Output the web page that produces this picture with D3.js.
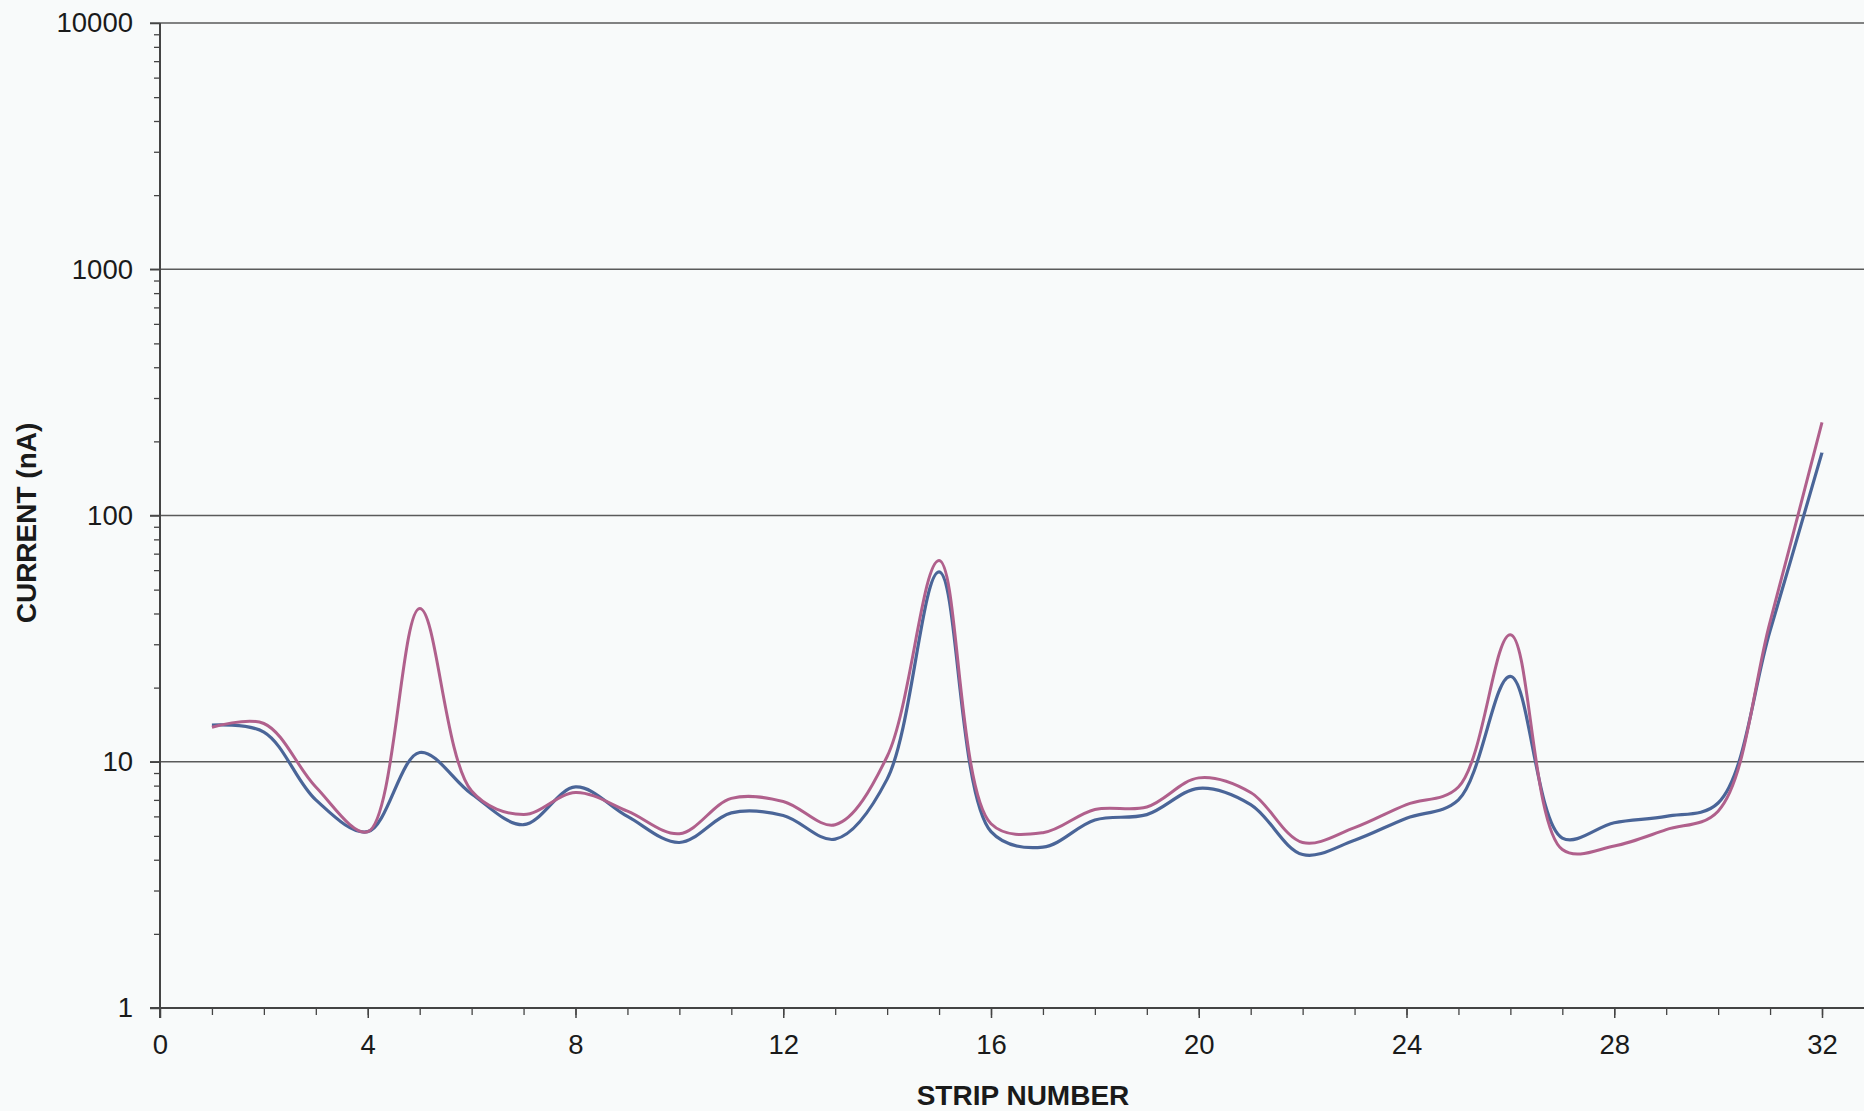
<!DOCTYPE html>
<html>
<head>
<meta charset="utf-8">
<script src="https://cdn.jsdelivr.net/npm/d3@7"></script>
<style>
  html, body { margin: 0; padding: 0; background: #f8fafa; }
  svg { display: block; }
  text { font-family: "Liberation Sans", Arial, sans-serif; fill: #1a1a1a; }
</style>
</head>
<body>
<svg id="chart" width="1864" height="1111"></svg>
<script>
// ---- data ----
const strips = d3.range(1, 33);
const seriesBlue = [14.1, 13.2, 7.0, 5.2, 10.9, 7.4, 5.55, 7.9, 6.0, 4.7, 6.2, 6.05, 4.85, 8.5, 59, 5.2,
                    4.5, 5.8, 6.1, 7.8, 6.7, 4.2, 4.8, 5.9, 7.0, 22.2, 4.9, 5.65, 6.0, 6.8, 34, 180];
const seriesPink = [13.8, 14.3, 7.9, 5.2, 41.9, 7.6, 6.1, 7.5, 6.3, 5.1, 7.1, 6.9, 5.55, 10.5, 65.6, 5.6,
                    5.15, 6.4, 6.55, 8.6, 7.5, 4.7, 5.4, 6.7, 7.9, 32.8, 4.4, 4.55, 5.3, 6.3, 37, 239];
const xTickValues = [0, 4, 8, 12, 16, 20, 24, 28, 32];
const yTickValues = [1, 10, 100, 1000, 10000];
const xTitle = "STRIP NUMBER";
const yTitle = "CURRENT (nA)";

// ---- layout ----
const svg = d3.select("#chart");
const W = 1864;
const x = d3.scaleLinear().domain([0, 32]).range([160, 1822]);
const y = d3.scaleLog().domain([1, 10000]).range([1008, 23]);
const x0 = x(0), yBottom = y(1);

// gridlines
svg.append("g").selectAll("line").data(yTickValues.filter(v => v > 1)).join("line")
  .attr("x1", x0 - 10).attr("x2", W)
  .attr("y1", d => y(d)).attr("y2", d => y(d))
  .attr("stroke", "#5a5a5a").attr("stroke-width", 1.5);

// y minor ticks
const yMinor = [];
[1, 10, 100, 1000].forEach(dec => { for (let k = 2; k <= 9; k++) yMinor.push(dec * k); });
svg.append("g").attr("transform", `translate(${x0},0)`)
  .call(d3.axisLeft(y).tickValues(yMinor).tickSize(6).tickFormat(""))
  .call(g => g.select(".domain").remove())
  .call(g => g.selectAll("line").attr("stroke", "#444").attr("stroke-width", 1.3));

// y major axis
svg.append("g").attr("transform", `translate(${x0},0)`)
  .call(d3.axisLeft(y).tickValues(yTickValues).tickSize(10).tickPadding(17).tickFormat(d3.format("d")))
  .call(g => g.select(".domain").remove())
  .call(g => g.selectAll("line").attr("stroke", "#444").attr("stroke-width", 1.5))
  .call(g => g.selectAll("text").attr("font-size", 27.5).attr("fill", "#1a1a1a")
      .attr("font-family", "'Liberation Sans', Arial, sans-serif"));

// x minor ticks
svg.append("g").attr("transform", `translate(0,${yBottom})`)
  .call(d3.axisBottom(x).tickValues(strips).tickSize(7).tickFormat(""))
  .call(g => g.select(".domain").remove())
  .call(g => g.selectAll("line").attr("stroke", "#444").attr("stroke-width", 1.3));

// x major axis
svg.append("g").attr("transform", `translate(0,${yBottom})`)
  .call(d3.axisBottom(x).tickValues(xTickValues).tickSize(10).tickPadding(16).tickFormat(d3.format("d")))
  .call(g => g.select(".domain").remove())
  .call(g => g.selectAll("line").attr("stroke", "#444").attr("stroke-width", 1.5))
  .call(g => g.selectAll("text").attr("font-size", 27.5).attr("fill", "#1a1a1a")
      .attr("font-family", "'Liberation Sans', Arial, sans-serif"));

// axis lines
svg.append("line").attr("x1", x0).attr("x2", x0).attr("y1", y(10000)).attr("y2", yBottom + 10)
  .attr("stroke", "#444").attr("stroke-width", 2);
svg.append("line").attr("x1", x0 - 10).attr("x2", W).attr("y1", yBottom).attr("y2", yBottom)
  .attr("stroke", "#444").attr("stroke-width", 2);

// series
const line = d3.line().x((d, i) => x(strips[i])).y(d => y(d)).curve(d3.curveCatmullRom.alpha(0.5));
svg.append("path").datum(seriesBlue).attr("d", line)
  .attr("fill", "none").attr("stroke", "#4a6598").attr("stroke-width", 3.2);
svg.append("path").datum(seriesPink).attr("d", line)
  .attr("fill", "none").attr("stroke", "#b0608c").attr("stroke-width", 3);

// titles
svg.append("text").attr("x", 1023).attr("y", 1105).attr("text-anchor", "middle")
  .attr("font-size", 28).attr("font-weight", "bold").text(xTitle);
svg.append("text").attr("transform", "translate(36,523) rotate(-90)").attr("text-anchor", "middle")
  .attr("font-size", 28).attr("font-weight", "bold").text(yTitle);
</script>
</body>
</html>
